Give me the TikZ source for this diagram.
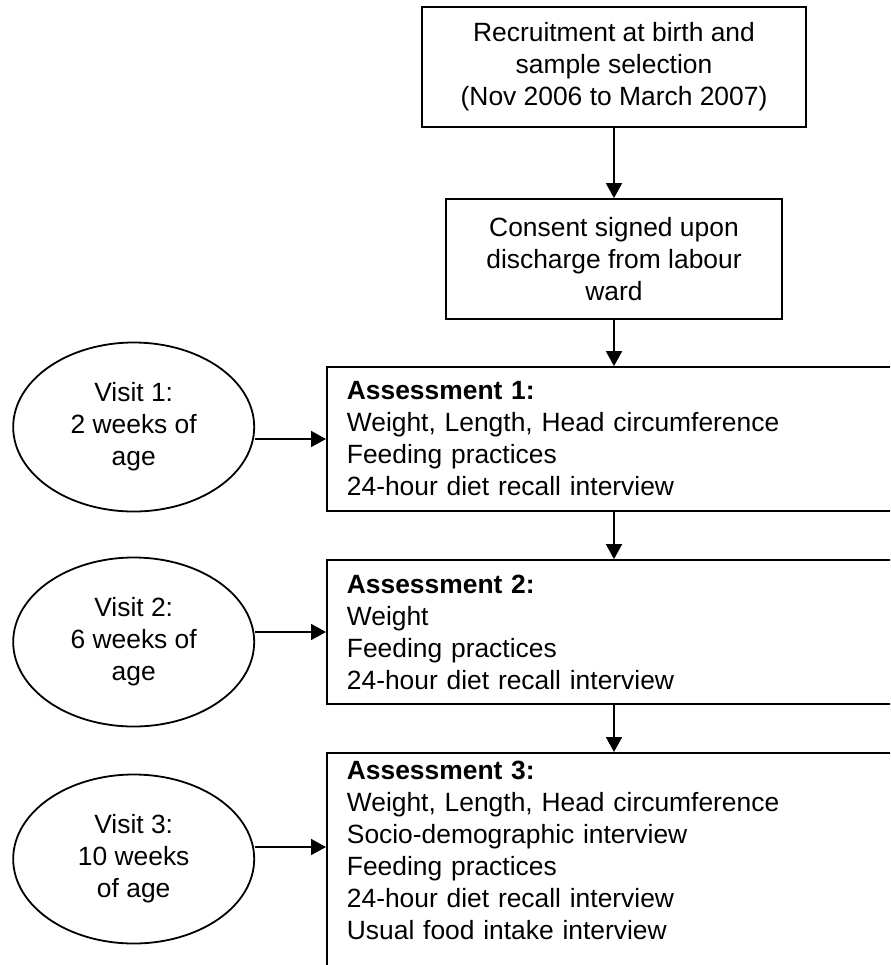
\documentclass[tikz,border=0pt]{standalone}
\usepackage{fontspec}
\setmainfont{Liberation Sans}
\usetikzlibrary{shapes.geometric,arrows.meta}

\begin{document}
\begin{tikzpicture}[x=0.5pt,y=-0.5pt,
    every node/.style={font=\fontsize{13.2}{16}\selectfont},
    stagebox/.style={draw,line width=0.9pt,align=center,inner sep=2pt,minimum height=60pt},
    assessbox/.style={draw,line width=0.9pt,align=left,text width=280pt,inner xsep=10pt,inner ysep=4pt,minimum height=72pt},
    visit/.style={draw,line width=0.9pt,ellipse,align=center,inner sep=0pt,minimum width=120.5pt,minimum height=84.5pt},
    arrow/.style={line width=0.9pt,-{Triangle[length=7.5pt,width=8pt]}}]

    % Define the page
    \useasboundingbox (0,0) rectangle (890,965);
    \clip (0,0) rectangle (890,965);

    % Place the main boxes
    \node[stagebox,minimum width=192pt] (recruit) at (614,66.7)
        {Recruitment at birth and\\ sample selection\\ (Nov 2006 to March 2007)};
    \node[stagebox,minimum width=168pt] (consent) at (614,259)
        {Consent signed upon\\ discharge from labour\\ ward};

    \node[assessbox,anchor=west] (a1) at (326,439)
        {\textbf{Assessment 1:}\\ Weight, Length, Head circumference\\ Feeding practices\\ 24-hour diet recall interview};
    \node[assessbox,anchor=west] (a2) at (326,632)
        {\textbf{Assessment 2:}\\ Weight\\ Feeding practices\\ 24-hour diet recall interview};
    \node[assessbox,anchor=north west] (a3) at (326,752)
        {\textbf{Assessment 3:}\\ Weight, Length, Head circumference\\ Socio-demographic interview\\ Feeding practices\\ 24-hour diet recall interview\\ Usual food intake interview\\ \mbox{}};

    % Place the visits
    \node[visit] (v1) at (133.7,427) {Visit 1:\\ 2 weeks of\\ age};
    \node[visit] (v2) at (133.7,642) {Visit 2:\\ 6 weeks of\\ age};
    \node[visit] (v3) at (133.7,859) {Visit 3:\\ 10 weeks\\ of age};
    \coordinate (in3) at (326,847);

    % Draw the arrows
    \draw[arrow] (recruit) -- (consent);
    \draw[arrow] (consent.south) -- (consent.south |- a1.north);
    \draw[arrow] (a1.south -| consent.south) -- (a2.north -| consent.south);
    \draw[arrow] (a2.south -| consent.south) -- (a3.north -| consent.south);

    \draw[arrow] (a1.west -| v1.east) -- (a1.west);
    \draw[arrow] (a2.west -| v2.east) -- (a2.west);
    \draw[arrow] (in3 -| v3.east) -- (in3);

\end{tikzpicture}
\end{document}
